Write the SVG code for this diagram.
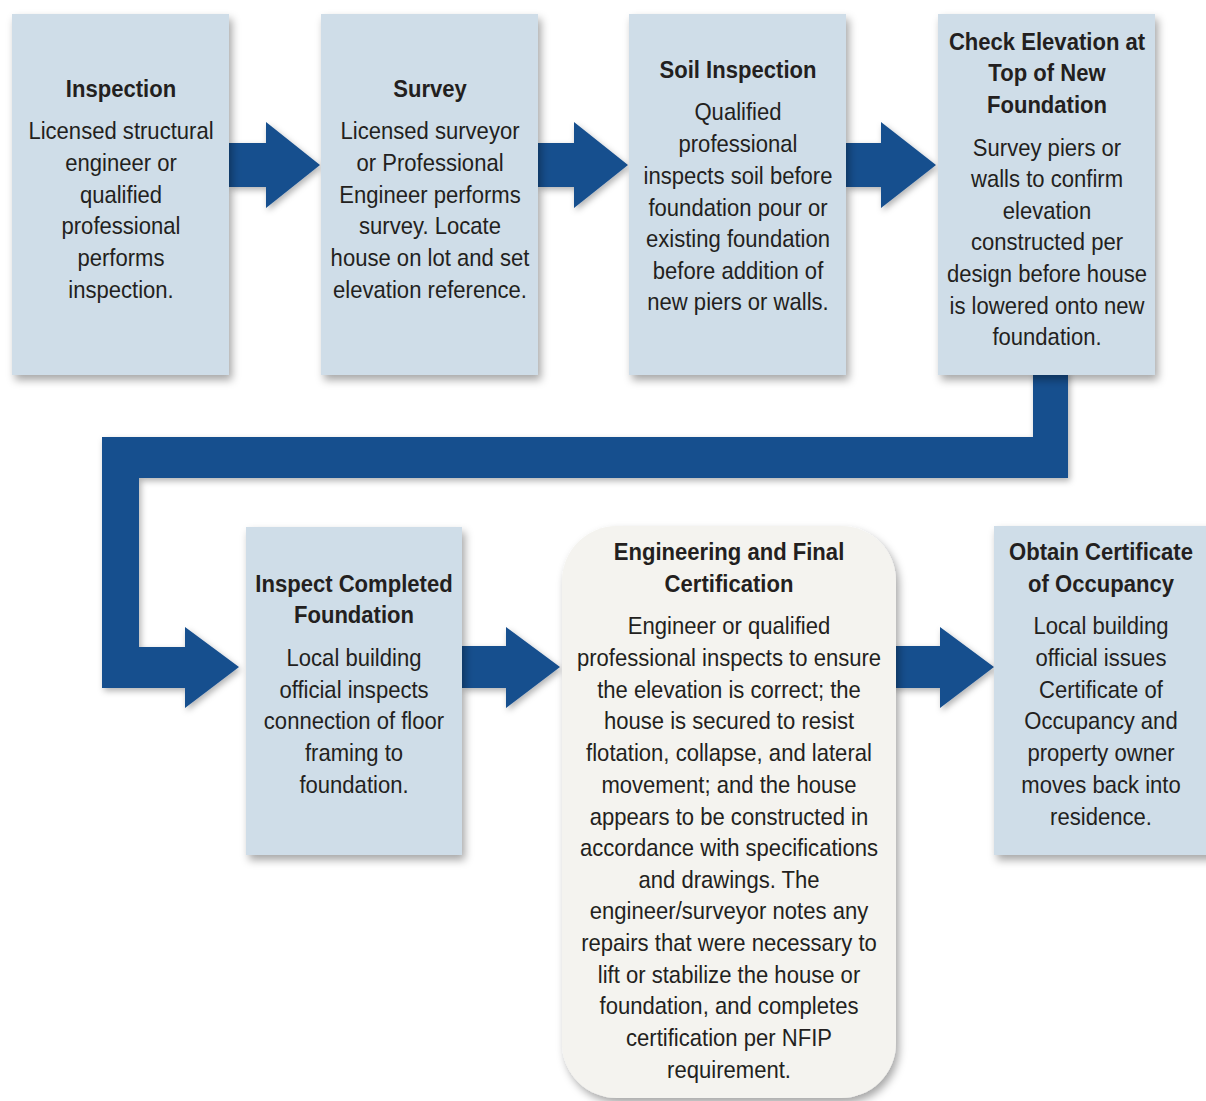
<svg xmlns="http://www.w3.org/2000/svg" width="1206" height="1101" viewBox="0 0 1206 1101">
<defs>
<filter id="sh" x="-10%" y="-10%" width="130%" height="130%">
<feDropShadow dx="3" dy="5" stdDeviation="4" flood-color="#000" flood-opacity="0.35"/>
</filter>
<filter id="ash" x="-10%" y="-10%" width="130%" height="130%">
<feDropShadow dx="2" dy="3" stdDeviation="3" flood-color="#000" flood-opacity="0.3"/>
</filter>
</defs>
<style>
.box{fill:#cfdde8;filter:url(#sh)}
.rbox{fill:#f4f3ef;filter:url(#sh)}
.arr{fill:#174f8e;filter:url(#ash)}
text{font-family:"Liberation Sans",Arial,sans-serif;font-size:24px;fill:#231f20;text-anchor:middle}
.t{font-weight:bold}
</style>
<rect width="1206" height="1101" fill="#fff"/>
<g id="connectors">
<path class="arr" d="M229,143 H266 V122 L320,165 L266,208 V187 H229 Z"/>
<path class="arr" d="M538,143 H574 V122 L628,165 L574,208 V187 H538 Z"/>
<path class="arr" d="M846,143 H881 V122 L936,165 L881,208 V187 H846 Z"/>
<path class="arr" d="M1033,370 H1068 V478 H139 V647 H185 V627 L239,667 L185,708 V688 H102 V437 H1033 Z"/>
<path class="arr" d="M462,646 H506 V627 L560,667 L506,708 V688 H462 Z"/>
<path class="arr" d="M893,646 H940 V627 L994,667 L940,708 V688 H893 Z"/>
</g>
<g id="n1">
<rect class="box" x="12" y="14" width="217" height="361"/>
<g transform="translate(121,0) scale(0.92,1)">
<text class="t" x="0" y="97">Inspection</text>
<text x="0" y="139">Licensed structural</text>
<text x="0" y="171">engineer or</text>
<text x="0" y="203">qualified</text>
<text x="0" y="234">professional</text>
<text x="0" y="266">performs</text>
<text x="0" y="298">inspection.</text>
</g>
</g>
<g id="n2">
<rect class="box" x="321" y="14" width="217" height="361"/>
<g transform="translate(430,0) scale(0.92,1)">
<text class="t" x="0" y="97">Survey</text>
<text x="0" y="139">Licensed surveyor</text>
<text x="0" y="171">or Professional</text>
<text x="0" y="203">Engineer performs</text>
<text x="0" y="234">survey. Locate</text>
<text x="0" y="266">house on lot and set</text>
<text x="0" y="298">elevation reference.</text>
</g>
</g>
<g id="n3">
<rect class="box" x="629" y="14" width="217" height="361"/>
<g transform="translate(738,0) scale(0.92,1)">
<text class="t" x="0" y="78">Soil Inspection</text>
<text x="0" y="120">Qualified</text>
<text x="0" y="152">professional</text>
<text x="0" y="184">inspects soil before</text>
<text x="0" y="216">foundation pour or</text>
<text x="0" y="247">existing foundation</text>
<text x="0" y="279">before addition of</text>
<text x="0" y="310">new piers or walls.</text>
</g>
</g>
<g id="n4">
<rect class="box" x="938" y="14" width="217" height="361"/>
<g transform="translate(1047,0) scale(0.92,1)">
<text class="t" x="0" y="50">Check Elevation at</text>
<text class="t" x="0" y="81">Top of New</text>
<text class="t" x="0" y="113">Foundation</text>
<text x="0" y="156">Survey piers or</text>
<text x="0" y="187">walls to confirm</text>
<text x="0" y="219">elevation</text>
<text x="0" y="250">constructed per</text>
<text x="0" y="282">design before house</text>
<text x="0" y="314">is lowered onto new</text>
<text x="0" y="345">foundation.</text>
</g>
</g>
<g id="n5">
<rect class="box" x="246" y="527" width="216" height="328"/>
<g transform="translate(354,0) scale(0.92,1)">
<text class="t" x="0" y="592">Inspect Completed</text>
<text class="t" x="0" y="623">Foundation</text>
<text x="0" y="666">Local building</text>
<text x="0" y="698">official inspects</text>
<text x="0" y="729">connection of floor</text>
<text x="0" y="761">framing to</text>
<text x="0" y="793">foundation.</text>
</g>
</g>
<g id="n6">
<rect class="rbox" x="562" y="526" width="334" height="572" rx="55" ry="55"/>
<g transform="translate(729,0) scale(0.92,1)">
<text class="t" x="0" y="560">Engineering and Final</text>
<text class="t" x="0" y="592">Certification</text>
<text x="0" y="634">Engineer or qualified</text>
<text x="0" y="666">professional inspects to ensure</text>
<text x="0" y="698">the elevation is correct; the</text>
<text x="0" y="729">house is secured to resist</text>
<text x="0" y="761">flotation, collapse, and lateral</text>
<text x="0" y="793">movement; and the house</text>
<text x="0" y="825">appears to be constructed in</text>
<text x="0" y="856">accordance with specifications</text>
<text x="0" y="888">and drawings. The</text>
<text x="0" y="919">engineer/surveyor notes any</text>
<text x="0" y="951">repairs that were necessary to</text>
<text x="0" y="983">lift or stabilize the house or</text>
<text x="0" y="1014">foundation, and completes</text>
<text x="0" y="1046">certification per NFIP</text>
<text x="0" y="1078">requirement.</text>
</g>
</g>
<g id="n7">
<rect class="box" x="994" y="526" width="220" height="329"/>
<g transform="translate(1101,0) scale(0.92,1)">
<text class="t" x="0" y="560">Obtain Certificate</text>
<text class="t" x="0" y="592">of Occupancy</text>
<text x="0" y="634">Local building</text>
<text x="0" y="666">official issues</text>
<text x="0" y="698">Certificate of</text>
<text x="0" y="729">Occupancy and</text>
<text x="0" y="761">property owner</text>
<text x="0" y="793">moves back into</text>
<text x="0" y="825">residence.</text>
</g>
</g>
</svg>
